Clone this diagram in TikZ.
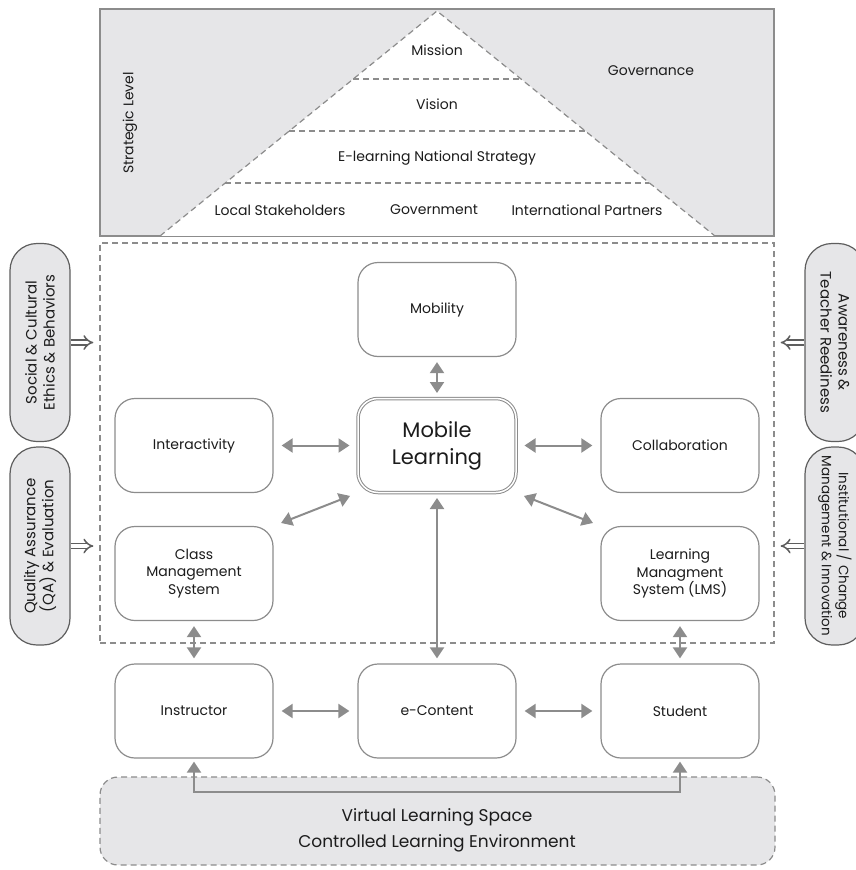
\documentclass[tikz,border=0pt]{standalone}
\usepackage{fontspec}
\setmainfont{Poppins}
\usetikzlibrary{arrows.meta,calc,positioning}
\definecolor{linegray}{HTML}{8C8C8C}
\definecolor{fillgray}{HTML}{E6E6E8}
\definecolor{pillgray}{HTML}{5E5E5E}
\definecolor{ink}{HTML}{1C1C1C}

\tikzset{
  box/.style={draw=linegray, line width=1.2pt, rounded corners=20pt, fill=white,
    minimum width=158pt, minimum height=94pt, inner sep=0, align=center,
    text=ink, font=\fontsize{14}{17.5}\selectfont},
  pill/.style={draw=pillgray, line width=1.2pt, fill=fillgray, rounded corners=27pt,
    minimum width=198pt, minimum height=60pt, inner sep=0, align=center,
    text=ink, font=\fontsize{15}{18}\selectfont},
  lbl/.style={text=ink, font=\fontsize{14}{16}\selectfont},
  tip/.style={>={Triangle[width=14pt,length=11pt]}},
  link/.style={tip, <->, color=linegray, line width=2pt, shorten <=8pt, shorten >=8pt},
  push/.style={draw=pillgray, double=white, double distance=3.5pt, line width=1.5pt,
    -{Implies}, shorten >=6pt},
  dashline/.style={draw=linegray, line width=1.2pt, dash pattern=on 6pt off 4pt},
}

\begin{document}
\begin{tikzpicture}[x=1pt,y=-1pt]
\useasboundingbox (0,0) rectangle (855,870);

% strategic level
\node[draw=linegray, line width=1.2pt, fill=fillgray, minimum width=674pt, minimum height=227pt, inner sep=0] (top) at (437,122.5) {};
\coordinate (apex) at (437,11);
\coordinate (bl) at (160,236);
\coordinate (br) at (715,236);
\fill[white] (apex) -- (bl) -- (br) -- cycle;
\draw[dashline] (bl) -- (apex) -- (br);
\draw[linegray, line width=1.2pt] (top.south west) -- (top.south east);
\foreach \t in {0.302,0.533,0.764}
  \draw[dashline] ($(apex)!\t!(bl)$) -- ($(apex)!\t!(br)$);

\node[lbl] (p1) at (437,50) {Mission};
\node[lbl] (p2) at (437,104) {Vision};
\node[lbl] (p3) at (437,158) {E-learning National Strategy};
\node[lbl] (p4) at (280,210) {Local Stakeholders};
\node[lbl] (p5) at (434,210) {Government};
\node[lbl] (p6) at (587,210) {International Partners};
\node[lbl] (gov) at (651,71) {Governance};
\node[lbl, rotate=90] (lvl) at (130,123) {Strategic Level};

% core
\node[dashline, minimum width=674pt, minimum height=400pt, inner sep=0] (core) at (437,443) {};

\node[pill, rotate=90] (s1) at (40,342.5) {Social \& Cultural\\Ethics \& Behaviors};
\node[pill, rotate=90] (s2) at (40,546) {Quality Assurance\\(QA) \& Evaluation};
\node[pill, rotate=-90] (r1) at (835,342.5) {Awareness \&\\Teacher Reediness};
\node[pill, rotate=-90, font=\fontsize{13.5}{17}\selectfont] (r2) at (835,546)
  {Institutional / Change\\Management \& Innovation};

\draw[push] (s1.south) -- (s1.south -| core.west);
\draw[push] (s2.south) -- (s2.south -| core.west);
\draw[push] (r1.south) -- (r1.south -| core.east);
\draw[push] (r2.south) -- (r2.south -| core.east);

\node[box] (mob) at (437,309.5) {Mobility};
\node[box, double=white, double distance=1.5pt, line width=1pt,
  font=\fontsize{21}{27}\selectfont] (ml) at (437,445.5) {Mobile\\Learning};
\node[box] (int) at (194,445.5) {Interactivity};
\node[box] (col) at (680,445.5) {Collaboration};
\node[box] (cms) at (194,573.5) {Class\\Management\\System};
\node[box] (lms) at (680,573.5) {Learning\\Managment\\System (LMS)};
\node[box] (ins) at (194,711) {Instructor};
\node[box] (ec) at (437,711) {e-Content};
\node[box] (stu) at (680,711) {Student};

% environment
\node[draw=linegray, line width=1.2pt, dash pattern=on 6pt off 4pt, fill=fillgray,
  rounded corners=18pt, minimum width=675pt, minimum height=88pt, inner sep=0] (vls) at (437.5,821) {};
\node[align=center, text=ink, font=\fontsize{17}{26}\selectfont] (env) at (437,830)
  {Virtual Learning Space\\Controlled Learning Environment};

\path[link] (int) edge (ml) (ml) edge (col)
  (ins) edge (ec) (ec) edge (stu);
\draw[link] (ml.south west) -- (cms.north east);
\draw[link] (ml.south east) -- (lms.north west);
\path[link, shorten <=5pt, shorten >=5pt] (mob) edge (ml) (ml) edge (ec)
  (cms) edge (ins) (lms) edge (stu);

\coordinate (c1) at (437,792);
\draw[link, shorten <=3pt, shorten >=3pt] (ins.south) |- (c1) -| (stu.south);

\end{tikzpicture}
\end{document}
